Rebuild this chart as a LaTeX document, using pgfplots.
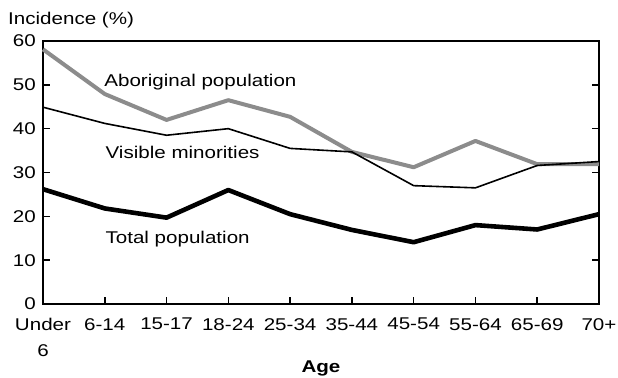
\documentclass[border=0pt]{standalone}
\usepackage{pgfplots}
\pgfplotsset{compat=1.18}
\usepackage{fontspec}
\setmainfont{Liberation Sans}[FakeStretch=1.21]
\definecolor{abgray}{RGB}{140,140,140}
\newcommand{\lblfont}{\fontsize{17}{26}\selectfont}
\begin{document}
\begin{tikzpicture}
\begin{axis}[
  scale only axis,
  width=556pt, height=263pt,
  xmin=0, xmax=9, ymin=0, ymax=60,
  xtick={0,...,9},
  xticklabels={{Under\\6},6-14,15-17,18-24,25-34,35-44,45-54,55-64,65-69,70+},
  xticklabel style={align=center, anchor=north, yshift=-14pt, font=\lblfont, inner sep=0pt},
  ytick={0,10,...,60},
  yticklabel style={font=\lblfont, inner sep=0pt, xshift=-7pt},
  /pgf/number format/assume math mode=true,
  axis line style={line width=1.8pt},
  tick style={line width=1.5pt, black},
  major tick length=7pt,
  tick align=inside,
  xtick pos=bottom,
  ytick pos=both,
  clip=false,
]
\addplot[abgray, line width=4pt, line join=round] coordinates {
(0,58.1)(1,47.9)(2,42.0)(3,46.5)(4,42.7)(5,34.7)(6,31.2)(7,37.2)(8,31.9)(9,31.9)};
\addplot[black, line width=1.6pt, line join=round] coordinates {
(0,44.9)(1,41.2)(2,38.5)(3,40.0)(4,35.5)(5,34.7)(6,27.0)(7,26.5)(8,31.6)(9,32.5)};
\addplot[black, line width=4.6pt, line join=round] coordinates {
(0,26.2)(1,21.8)(2,19.7)(3,26.0)(4,20.5)(5,16.9)(6,14.1)(7,18.0)(8,17.0)(9,20.5)};
\node[anchor=base west, font=\lblfont, inner sep=0pt] at (axis cs:0.99,49.7) {Aboriginal population};
\node[anchor=base west, font=\lblfont, inner sep=0pt] at (axis cs:1.01,33.3) {Visible minorities};
\node[anchor=base west, font=\lblfont, inner sep=0pt] at (axis cs:1.01,13.7) {Total population};
\coordinate (sw) at (rel axis cs:0,0);
\coordinate (ne) at (rel axis cs:1,1);
\coordinate (bm) at (rel axis cs:0.5,0);
\end{axis}
\node[anchor=base west, font=\lblfont, inner sep=0pt] at ([shift={(-35pt,17pt)}]sw |- ne) {Incidence (\%)};
\node[anchor=base, font=\bfseries\lblfont, inner sep=0pt] at ([shift={(0pt,-68pt)}]bm) {Age};
\pgfresetboundingbox
\path ([shift={(-43pt,-73pt)}]sw) rectangle ([shift={(19pt,41pt)}]ne);
\end{tikzpicture}
\end{document}
